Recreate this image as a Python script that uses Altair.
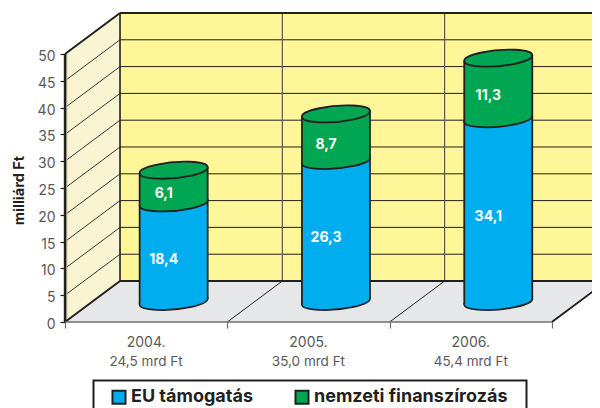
import altair as alt
import pandas as pd

# ---- chart values ----
YEARS = ["2004.", "2005.", "2006."]
TOTAL_LABELS = ["24,5 mrd Ft", "35,0 mrd Ft", "45,4 mrd Ft"]
EU = [18.4, 26.3, 34.1]
NAT = [6.1, 8.7, 11.3]
EU_LABELS = ["18,4", "26,3", "34,1"]
NAT_LABELS = ["6,1", "8,7", "11,3"]
Y_TICKS = [0, 5, 10, 15, 20, 25, 30, 35, 40, 45, 50]
SERIES = ["EU támogatás", "nemzeti finanszírozás"]

DARK = "#231F20"
BLUE = "#00AEEF"
GREEN = "#00A651"
WALL = "#FFF599"
SIDE = "#F9F5D2"
FLOOR = "#E6E7E8"
TEXT = "#58595B"
FONT = "Inter"

# ---- oblique projection: depth 0 (front) .. 1 (back), in axis units ----
DX, DY = 0.339, 7.65      # depth shift in category units / value units
R, TILT = 0.2095, 0.56    # cylinder half width, tilt of the ellipses


def px(cat, depth=0.0):
    return cat + depth * DX


def py(val, depth=0.0):
    return val + depth * DY


xs = alt.Scale(domain=[-0.3512, 3.2471], nice=False, zero=False)
ys = alt.Scale(domain=[-16.04, 58.58], nice=False, zero=False)
colors = alt.Scale(domain=SERIES, range=[BLUE, GREEN])
W, H = 584, 400


def X(axis=None):
    return alt.X("x:Q", scale=xs, axis=axis)


def Y(axis=None):
    return alt.Y("y:Q", scale=ys, axis=axis)


X2 = alt.X2("x2:Q")
Y2 = alt.Y2("y2:Q")
XMAX = 3.5

# ---- frame ----
wall_df = pd.DataFrame(
    {"x": [px(0, 1), XMAX], "y": [py(50, 1)] * 2, "y2": [py(0, 1)] * 2}
)
wall = (
    alt.Chart(wall_df)
    .mark_area(color=WALL, clip=True)
    .encode(
        x=X(
            alt.Axis(
                values=[0, 1, 2, 3],
                labels=False,
                domain=False,
                grid=False,
                ticks=True,
                tickSize=6,
                tickColor="#6D6E71",
                tickWidth=1.2,
                offset=-(H + 8 - 322),
                title="",
            )
        ),
        y=Y(
            alt.Axis(
                values=Y_TICKS,
                domain=False,
                grid=False,
                tickSize=5,
                tickColor=DARK,
                tickWidth=1.2,
                labelPadding=5,
                labelOffset=2.5,
                labelFont=FONT,
                labelFontSize=14,
                labelColor=TEXT,
                offset=-57,
                title="milliárd Ft",
                titleFont=FONT,
                titleFontSize=14.5,
                titleFontWeight="bold",
                titleColor=DARK,
                titleX=-46,
                titleY=182,
                titleAngle=-90,
                titleAlign="center",
                titleBaseline="middle",
            )
        ),
        y2=Y2,
    )
)

side_df = pd.DataFrame(
    {"x": [px(0, 0), px(0, 1)], "y": [py(50, 0), py(50, 1)], "y2": [py(0, 0), py(0, 1)]}
)
side = alt.Chart(side_df).mark_area(color=SIDE).encode(x=X(), y=Y(), y2=Y2)

floor_df = pd.DataFrame(
    {
        "x": [px(0, 0), px(0, 1), px(3, 0), px(3, 1)],
        "y": [py(0, 0), py(0, 1), py(0, 1), py(0, 1)],
        "y2": [py(0, 0), py(0, 0), py(0, 0), py(0, 1)],
    }
)
floor = alt.Chart(floor_df).mark_area(color=FLOOR, clip=True).encode(x=X(), y=Y(), y2=Y2)

wall_h = pd.DataFrame(
    {
        "x": [px(0, 1)] * 9,
        "x2": [XMAX] * 9,
        "y": [py(v, 1) for v in Y_TICKS[1:-1]],
    }
)
wall_h_rules = (
    alt.Chart(wall_h)
    .mark_rule(color=DARK, strokeWidth=1, clip=True)
    .encode(x=X(), x2=X2, y=Y())
)
wall_v = pd.DataFrame(
    {
        "x": [px(1, 1), px(2, 1)],
        "y": [py(0, 1)] * 2,
        "y2": [py(50, 1)] * 2,
    }
)
wall_v_rules = (
    alt.Chart(wall_v)
    .mark_rule(color="#5C5A45", strokeWidth=1.2)
    .encode(x=X(), y=Y(), y2=Y2)
)
side_lines = pd.DataFrame(
    {
        "x": [px(0, 0)] * 9,
        "x2": [px(0, 1)] * 9,
        "y": [py(v, 0) for v in Y_TICKS[1:-1]],
        "y2": [py(v, 1) for v in Y_TICKS[1:-1]],
    }
)
side_rules = (
    alt.Chart(side_lines)
    .mark_rule(color=DARK, strokeWidth=0.9)
    .encode(x=X(), x2=X2, y=Y(), y2=Y2)
)
floor_lines = pd.DataFrame(
    {
        "x": [px(1, 0), px(2, 0)],
        "x2": [px(1, 1), px(2, 1)],
        "y": [py(0, 0)] * 2,
        "y2": [py(0, 1)] * 2,
    }
)
floor_rules = (
    alt.Chart(floor_lines)
    .mark_rule(color=DARK, strokeWidth=1)
    .encode(x=X(), x2=X2, y=Y(), y2=Y2)
)
heavy_df = pd.DataFrame(
    {
        "x": [px(0, 1), px(0, 1), px(0, 0), px(0, 0), px(3, 0)],
        "x2": [XMAX, XMAX, px(0, 1), px(0, 1), px(3, 1)],
        "y": [py(50, 1), py(0, 1), py(50, 0), py(0, 0), py(0, 0)],
        "y2": [py(50, 1), py(0, 1), py(50, 1), py(0, 1), py(0, 1)],
    }
)
heavy_rules = (
    alt.Chart(heavy_df)
    .mark_rule(color=DARK, strokeWidth=2, clip=True)
    .encode(x=X(), x2=X2, y=Y(), y2=Y2)
)
back_edge = (
    alt.Chart(pd.DataFrame({"x": [px(0, 1)], "y": [py(0, 1)], "y2": [py(50, 1)]}))
    .mark_rule(color=DARK, strokeWidth=1.6)
    .encode(x=X(), y=Y(), y2=Y2)
)
axis_shade = (
    alt.Chart(pd.DataFrame({"x": [px(0, 0) + 0.009], "y": [py(0, 0)], "y2": [py(50, 0)]}))
    .mark_rule(color="#BDB38A", strokeWidth=1.6)
    .encode(x=X(), y=Y(), y2=Y2)
)
left_axis = (
    alt.Chart(pd.DataFrame({"x": [px(0, 0)], "y": [py(0, 0)], "y2": [py(50, 0)]}))
    .mark_rule(color=DARK, strokeWidth=2.4)
    .encode(x=X(), y=Y(), y2=Y2)
)
front_axis = (
    alt.Chart(pd.DataFrame({"x": [px(0, 0)], "x2": [px(3, 0)], "y": [py(0, 0)]}))
    .mark_rule(color="#6D6E71", strokeWidth=1.6)
    .encode(x=X(), x2=X2, y=Y())
)

# ---- cylinders ----
centers = [px(i + 0.5, 0.5) for i in range(3)]
base = [py(0, 0.5)] * 3
mid = [py(v, 0.5) for v in EU]
top = [py(a + b, 0.5) for a, b in zip(EU, NAT)]


def segment(lo, hi, name):
    rows = []
    for i, c in enumerate(centers):
        rows.append({"year": YEARS[i], "series": name, "x": c - R, "y": hi[i] - TILT, "y2": lo[i] - TILT})
        rows.append({"year": YEARS[i], "series": name, "x": c + R, "y": hi[i] + TILT, "y2": lo[i] + TILT})
    return pd.DataFrame(rows)


ELLIPSE = "M-1,0.088 A1.004,0.232,-5,1,1,1,-0.088 A1.004,0.232,-5,1,1,-1,0.088 Z"


def caps(vals, fill):
    df = pd.DataFrame({"x": centers, "y": vals})
    return (
        alt.Chart(df)
        .mark_point(
            shape=ELLIPSE, size=(2 * R * 162.3) ** 2, fill=fill, stroke=DARK,
            strokeWidth=1.8, opacity=1, filled=True,
        )
        .encode(x=X(), y=Y())
    )


blue_body = (
    alt.Chart(segment(base, mid, SERIES[0]))
    .mark_area()
    .encode(
        x=X(), y=Y(), y2=Y2, detail="year:N",
        color=alt.Color(
            "series:N",
            scale=colors,
            legend=alt.Legend(
                orient="none",
                legendX=102,
                legendY=380,
                direction="horizontal",
                columns=2,
                title=None,
                padding=0,
                symbolType="square",
                symbolSize=170,
                symbolStrokeColor=DARK,
                symbolStrokeWidth=2,
                labelFont=FONT,
                labelFontSize=18,
                labelFontWeight="bold",
                labelColor=DARK,
                labelLimit=400,
                labelOffset=3,
                columnPadding=37,
                values=SERIES,
            ),
        ),
    )
)
green_body = (
    alt.Chart(segment(mid, top, SERIES[1]))
    .mark_area()
    .encode(
        x=X(), y=Y(), y2=Y2, detail="year:N",
        color=alt.Color("series:N", scale=colors, legend=None),
    )
)
edges_rows = []
for i, c in enumerate(centers):
    edges_rows.append({"x": c - R, "y": base[i] - TILT, "y2": top[i] - TILT})
    edges_rows.append({"x": c + R, "y": base[i] + TILT, "y2": top[i] + TILT})
edges = (
    alt.Chart(pd.DataFrame(edges_rows))
    .mark_rule(color=DARK, strokeWidth=1.8)
    .encode(x=X(), y=Y(), y2=Y2)
)

# ---- value labels, sitting a little nearer than the cylinder axis ----
LABEL_DEPTH = 0.32
label_df = pd.DataFrame(
    {
        "x": [px(i + 0.5, LABEL_DEPTH) for i in range(3)] * 2,
        "y": [py(v / 2, LABEL_DEPTH) for v in EU]
        + [py(a + b / 2, LABEL_DEPTH) for a, b in zip(EU, NAT)],
        "t": EU_LABELS + NAT_LABELS,
    }
)
value_labels = (
    alt.Chart(label_df)
    .mark_text(font=FONT, fontSize=14, fontWeight="bold", color="white", baseline="middle")
    .encode(x=X(), y=Y(), text="t:N")
)

# ---- category labels ----
cat_df = pd.DataFrame(
    {"x": [i + 0.5 for i in range(3)], "y": [0, 0, 0], "year": YEARS, "total": TOTAL_LABELS}
)
year_labels = (
    alt.Chart(cat_df)
    .mark_text(font=FONT, fontSize=14, color=TEXT, baseline="middle", dy=20.5)
    .encode(x=X(), y=Y(), text="year:N")
)
total_labels = (
    alt.Chart(cat_df)
    .mark_text(font=FONT, fontSize=13.5, color=TEXT, baseline="middle", dy=39.5)
    .encode(x=X(), y=Y(), text="total:N")
)

# ---- frame round the legend, running off the bottom of the page ----
legend_box = (
    alt.Chart(pd.DataFrame({"k": [0]}))
    .mark_rect(fill="white", stroke=DARK, strokeWidth=2)
    .encode(x=alt.value(85.5), x2=alt.value(518.5), y=alt.value(372.5), y2=alt.value(430))
)

chart = (
    alt.layer(
        wall,
        side,
        floor,
        wall_h_rules,
        wall_v_rules,
        side_rules,
        floor_rules,
        axis_shade,
        back_edge,
        heavy_rules,
        left_axis,
        front_axis,
        caps(base, BLUE),
        blue_body,
        caps(mid, GREEN),
        green_body,
        caps(top, GREEN),
        edges,
        value_labels,
        year_labels,
        total_labels,
        legend_box,
    )
    .resolve_axis(x="independent", y="independent")
    .properties(width=W, height=H, padding=0, autosize="none", background="white")
    .configure_view(stroke=None)
)

chart.save("out.html", embed_options={"renderer": "svg", "actions": False})
